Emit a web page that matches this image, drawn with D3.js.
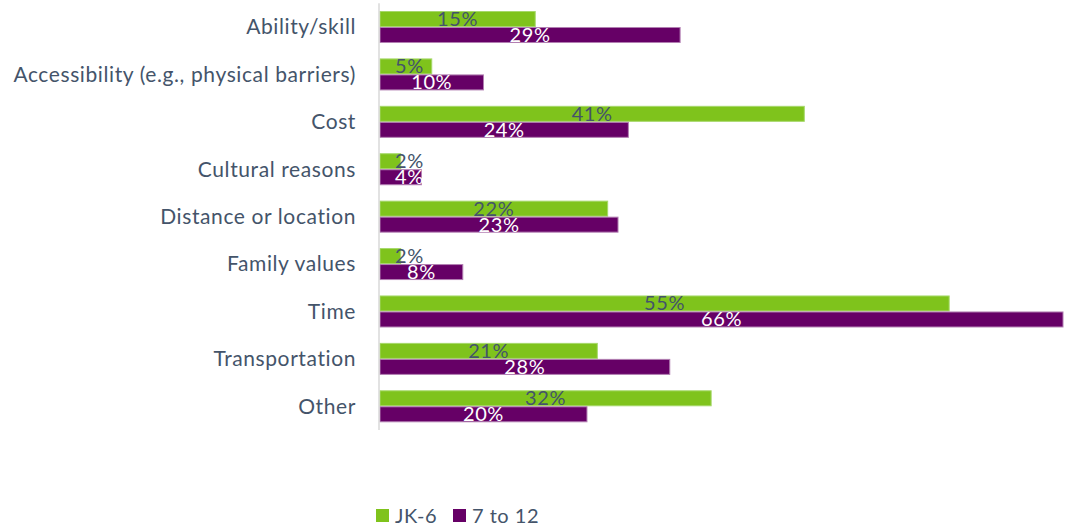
<!DOCTYPE html>
<html>
<head>
<meta charset="utf-8">
<script src="https://cdn.jsdelivr.net/npm/d3@7"></script>
<style>
  body { margin: 0; background: #fff; }
  svg text { font-family: Lato, "Open Sans", sans-serif; }
</style>
</head>
<body>
<svg id="chart" width="1066" height="529"></svg>
<script>
// Reasons reported, by grade group (percent of respondents)
const categories = [
  "Ability/skill",
  "Accessibility (e.g., physical barriers)",
  "Cost",
  "Cultural reasons",
  "Distance or location",
  "Family values",
  "Time",
  "Transportation",
  "Other"
];
const seriesNames = ["JK-6", "7 to 12"];
const jk6 = [15, 5, 41, 2, 22, 2, 55, 21, 32];
const grade7to12 = [29, 10, 24, 4, 23, 8, 66, 28, 20];

const colors = { "JK-6": "#7FC31C", "7 to 12": "#660066" };
const borders = { "JK-6": "#A6D86A", "7 to 12": "#B27FB2" };
const labelColors = { "JK-6": "#44546A", "7 to 12": "#FFFFFF" };
const textColor = "#44546A";

const svg = d3.select("#chart");
const plotLeft = 380, plotRight = 1063, plotTop = 3.3, plotBottom = 430;

const x = d3.scaleLinear().domain([0, 66]).range([plotLeft, plotRight]);
const y = d3.scaleBand().domain(categories).range([plotTop, plotBottom]).paddingInner(0.325).paddingOuter(0.1625);
const ySub = d3.scaleBand().domain(seriesNames).range([0, y.bandwidth()]);

const rows = categories.map((c, i) => ({
  category: c,
  values: [
    { series: "JK-6", value: jk6[i] },
    { series: "7 to 12", value: grade7to12[i] }
  ]
}));

// Bars
const groups = svg.append("g").selectAll("g")
  .data(rows).join("g")
  .attr("transform", d => `translate(0,${y(d.category)})`);

groups.selectAll("rect")
  .data(d => d.values).join("rect")
  .attr("x", x(0))
  .attr("y", d => ySub(d.series) + 0.5)
  .attr("width", d => x(d.value) - x(0))
  .attr("height", ySub.bandwidth() - 1)
  .attr("fill", d => colors[d.series])
  .attr("stroke", d => borders[d.series])
  .attr("stroke-width", 1);

// Value labels, centred on each bar but kept clear of the axis line
const labelMinLeft = x(0) + 15;
groups.selectAll("text.val")
  .data(d => d.values).join("text")
  .attr("class", "val")
  .attr("y", d => ySub(d.series) + ySub.bandwidth() - 1)
  .attr("text-anchor", "middle")
  .attr("font-size", 20)
  .attr("letter-spacing", 0.6)
  .attr("fill", d => labelColors[d.series])
  .text(d => d.value + "%")
  .attr("x", function(d) {
    const w = this.getComputedTextLength();
    const cx = (x(0) + x(d.value)) / 2;
    return Math.max(cx, labelMinLeft + w / 2);
  });

// Category axis
const yAxis = svg.append("g")
  .attr("transform", `translate(${x(0) - 1},0)`)
  .call(d3.axisLeft(y).tickSize(0).tickPadding(23));
yAxis.select(".domain")
  .attr("d", `M0,${plotTop}V${plotBottom}`)
  .attr("stroke", "#D9D9D9")
  .attr("stroke-width", 1.5);
yAxis.selectAll("text")
  .attr("font-size", 21)
  .attr("letter-spacing", 0.6)
  .attr("fill", textColor)
  .attr("dy", "0.35em");

// Legend
const legend = svg.append("g").attr("transform", "translate(376,509)");
const legendX = [0, 77];
const items = legend.selectAll("g").data(seriesNames).join("g")
  .attr("transform", (d, i) => `translate(${legendX[i]},0)`);
items.append("rect")
  .attr("width", 13).attr("height", 13)
  .attr("fill", d => colors[d]);
items.append("text")
  .attr("x", 19).attr("y", 13.5)
  .attr("font-size", 20)
  .attr("letter-spacing", 0.5)
  .attr("fill", textColor)
  .text(d => d);
</script>
</body>
</html>
